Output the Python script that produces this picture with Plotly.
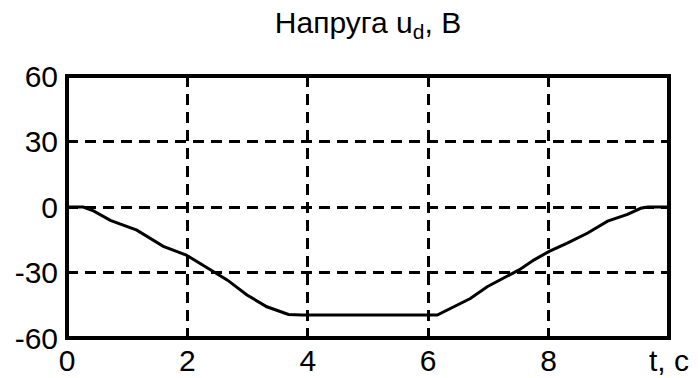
import plotly.graph_objects as go

# Time axis, s
t = [0, 0.27, 0.44, 0.72, 1.16, 1.6, 1.98, 2.38, 2.66, 2.99, 3.32, 3.68, 3.9,
     6.15, 6.37, 6.7, 6.98, 7.2, 7.51, 7.76, 8.01, 8.31, 8.65, 8.98, 9.31, 9.53, 9.65, 10]
# Voltage u_d, V
u = [0, 0, -1.8, -6.1, -10.6, -18, -22, -28.5, -33.4, -40.3, -45.7, -49.2, -49.5,
     -49.5, -46.5, -41.9, -36.5, -33.4, -28.8, -24.2, -20.3, -16.5, -11.9, -6.5, -3.4, -0.6, 0, 0]

x_ticks = [0, 2, 4, 6, 8, 10]
x_labels = ["0", "2", "4", "6", "8", "t, c"]
y_ticks = [-60, -30, 0, 30, 60]
y_labels = ["-60", "-30", "0", "30", "60"]

FONT = "Liberation Sans, Arial, sans-serif"

fig = go.Figure()
fig.add_trace(go.Scatter(x=t, y=u, mode="lines",
                         line=dict(color="black", width=3), hoverinfo="skip"))

grid = dict(showgrid=True, gridcolor="black", gridwidth=3, griddash="11px,7px",
            zeroline=False, showline=False, ticks="", automargin=False)

fig.update_xaxes(range=[0, 10], tickvals=x_ticks, ticktext=x_labels,
                 ticklabelstandoff=2, **grid)
fig.update_yaxes(range=[-60, 60], tickvals=y_ticks, ticktext=y_labels,
                 ticklabelstandoff=8, **grid)

# Frame around the plotting area
fig.add_shape(type="rect", xref="paper", yref="paper", x0=0, x1=1, y0=0, y1=1,
              line=dict(color="black", width=4), fillcolor="rgba(0,0,0,0)", layer="above")

fig.update_layout(
    width=698, height=378,
    margin=dict(l=67, r=29, t=76, b=40),
    paper_bgcolor="white", plot_bgcolor="white",
    font=dict(family=FONT, size=30, color="black"),
    title=dict(text="Напруга u<sub>d</sub>, В", x=0.5, xref="paper", xanchor="center",
               y=0.94, yref="container", yanchor="middle",
               font=dict(family=FONT, size=30, color="black")),
    showlegend=False,
)

fig.write_html("out.html", config={"displayModeBar": False})
